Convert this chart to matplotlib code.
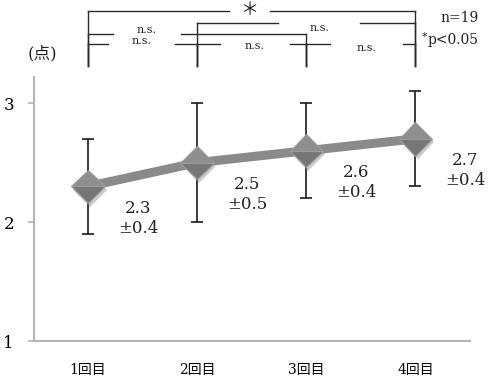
import matplotlib
matplotlib.use("Agg")
import matplotlib.pyplot as plt
import matplotlib.patheffects as pe
from matplotlib.transforms import blended_transform_factory

# scores per session (mean and sd), n=19
sessions = ["1回目", "2回目", "3回目", "4回目"]
means = [2.3, 2.5, 2.6, 2.7]
sds = [0.4, 0.5, 0.4, 0.4]
y_ticks = [1, 2, 3]

# pairwise comparisons: (left, right, label)
comparisons = [
    (0, 3, "＊"),
    (1, 3, "n.s."),
    (0, 2, "n.s."),
    (0, 1, "n.s."),
    (1, 2, "n.s."),
    (2, 3, "n.s."),
]

serif = ["DejaVu Serif", "Noto Sans CJK JP"]
plt.rcParams["font.family"] = serif

fig = plt.figure(figsize=(4.88, 3.78), dpi=100)
ax = fig.add_axes([33.5 / 488, 37 / 378, 436.5 / 488, 264 / 378])

x = list(range(len(sessions)))

ax.plot(x, means, color="#8a8a8a", lw=6.5, solid_capstyle="butt", zorder=2)
ax.errorbar(x, means, yerr=sds, fmt="none", ecolor="#1a1a1a", elinewidth=1.2,
            capsize=4.5, capthick=1.2, zorder=3)
ax.plot(x, means, ls="none", marker="D", ms=17, fillstyle="top",
        markerfacecolor="#8e8e8e", markerfacecoloralt="#767676",
        markeredgecolor="#9c9c9c", markeredgewidth=0.8, zorder=4,
        path_effects=[pe.SimplePatchShadow(offset=(1.5, -2.5), shadow_rgbFace="0.55", alpha=0.45),
                      pe.Normal()])

for xi, m, s in zip(x, means, sds):
    ax.annotate(f"{m:.1f}\n±{s:.1f}", (xi, m), xytext=(36, -23), textcoords="offset points",
                ha="center", va="center", fontsize=12, linespacing=1.2, color="#222222")

ax.set_xlim(-0.5, 3.5)
ax.set_ylim(1, 3.22)
ax.set_yticks(y_ticks)
ax.set_xticks(x)
ax.set_xticklabels(sessions, fontsize=10)
ax.tick_params(axis="y", length=4, width=1.2, color="#b4b4b4", labelsize=12, pad=10)
ax.tick_params(axis="x", length=0, pad=16)
for side in ["top", "right"]:
    ax.spines[side].set_visible(False)
for side in ["left", "bottom"]:
    ax.spines[side].set_color("#b4b4b4")
    ax.spines[side].set_linewidth(1.5)

# significance brackets above the axes
tr = blended_transform_factory(ax.transData, ax.transAxes)
bracket_y = {(0, 3): 1.25, (1, 3): 1.2045, (0, 2): 1.163, (0, 1): 1.125, (1, 2): 1.125, (2, 3): 1.125}
label_x = {(0, 3): 1.477, (1, 3): 2.12, (0, 2): 0.54, (0, 1): 0.49, (1, 2): 1.53, (2, 3): 2.55}
label_y = {(0, 3): 1.255, (1, 3): 1.186, (0, 2): 1.178, (0, 1): 1.136, (1, 2): 1.117, (2, 3): 1.110}
half_gap = {(0, 3): 0.19, (1, 3): 0.376, (0, 2): 0.31, (0, 1): 0.31, (1, 2): 0.32, (2, 3): 0.335}
leg_bottom = 1.0417
lkw = dict(color="#2a2a2a", lw=1.0, transform=tr, clip_on=False)
for a, b, lab in comparisons:
    key = (a, b)
    yb = bracket_y[key]
    cx = label_x[key]
    hg = half_gap[key]
    ax.plot([a, cx - hg], [yb, yb], **lkw)
    ax.plot([cx + hg, b], [yb, yb], **lkw)
    ax.plot([a, a], [yb, leg_bottom], **lkw)
    ax.plot([b, b], [yb, leg_bottom], **lkw)
    if lab == "n.s.":
        ax.text(cx, label_y[key], lab, transform=tr, ha="center", va="center",
                fontsize=8, color="#222222")
    else:
        ax.text(cx, label_y[key], lab, transform=tr, ha="center", va="center",
                fontsize=13, color="#222222", family=["Noto Sans CJK JP"])

fig.text(42 / 488, 1 - 54 / 378, "(点)", ha="center", va="center", fontsize=12, color="#222222")
fig.text(479 / 488, 1 - 18 / 378, "n=19", ha="right", va="center", fontsize=10, color="#222222")
fig.text(479 / 488, 1 - 40 / 378, "p<0.05", ha="right", va="center", fontsize=10, color="#222222")
fig.text(425 / 488, 1 - 37 / 378, "*", ha="center", va="center", fontsize=8, color="#222222")

fig.savefig("out.png", dpi=100)
